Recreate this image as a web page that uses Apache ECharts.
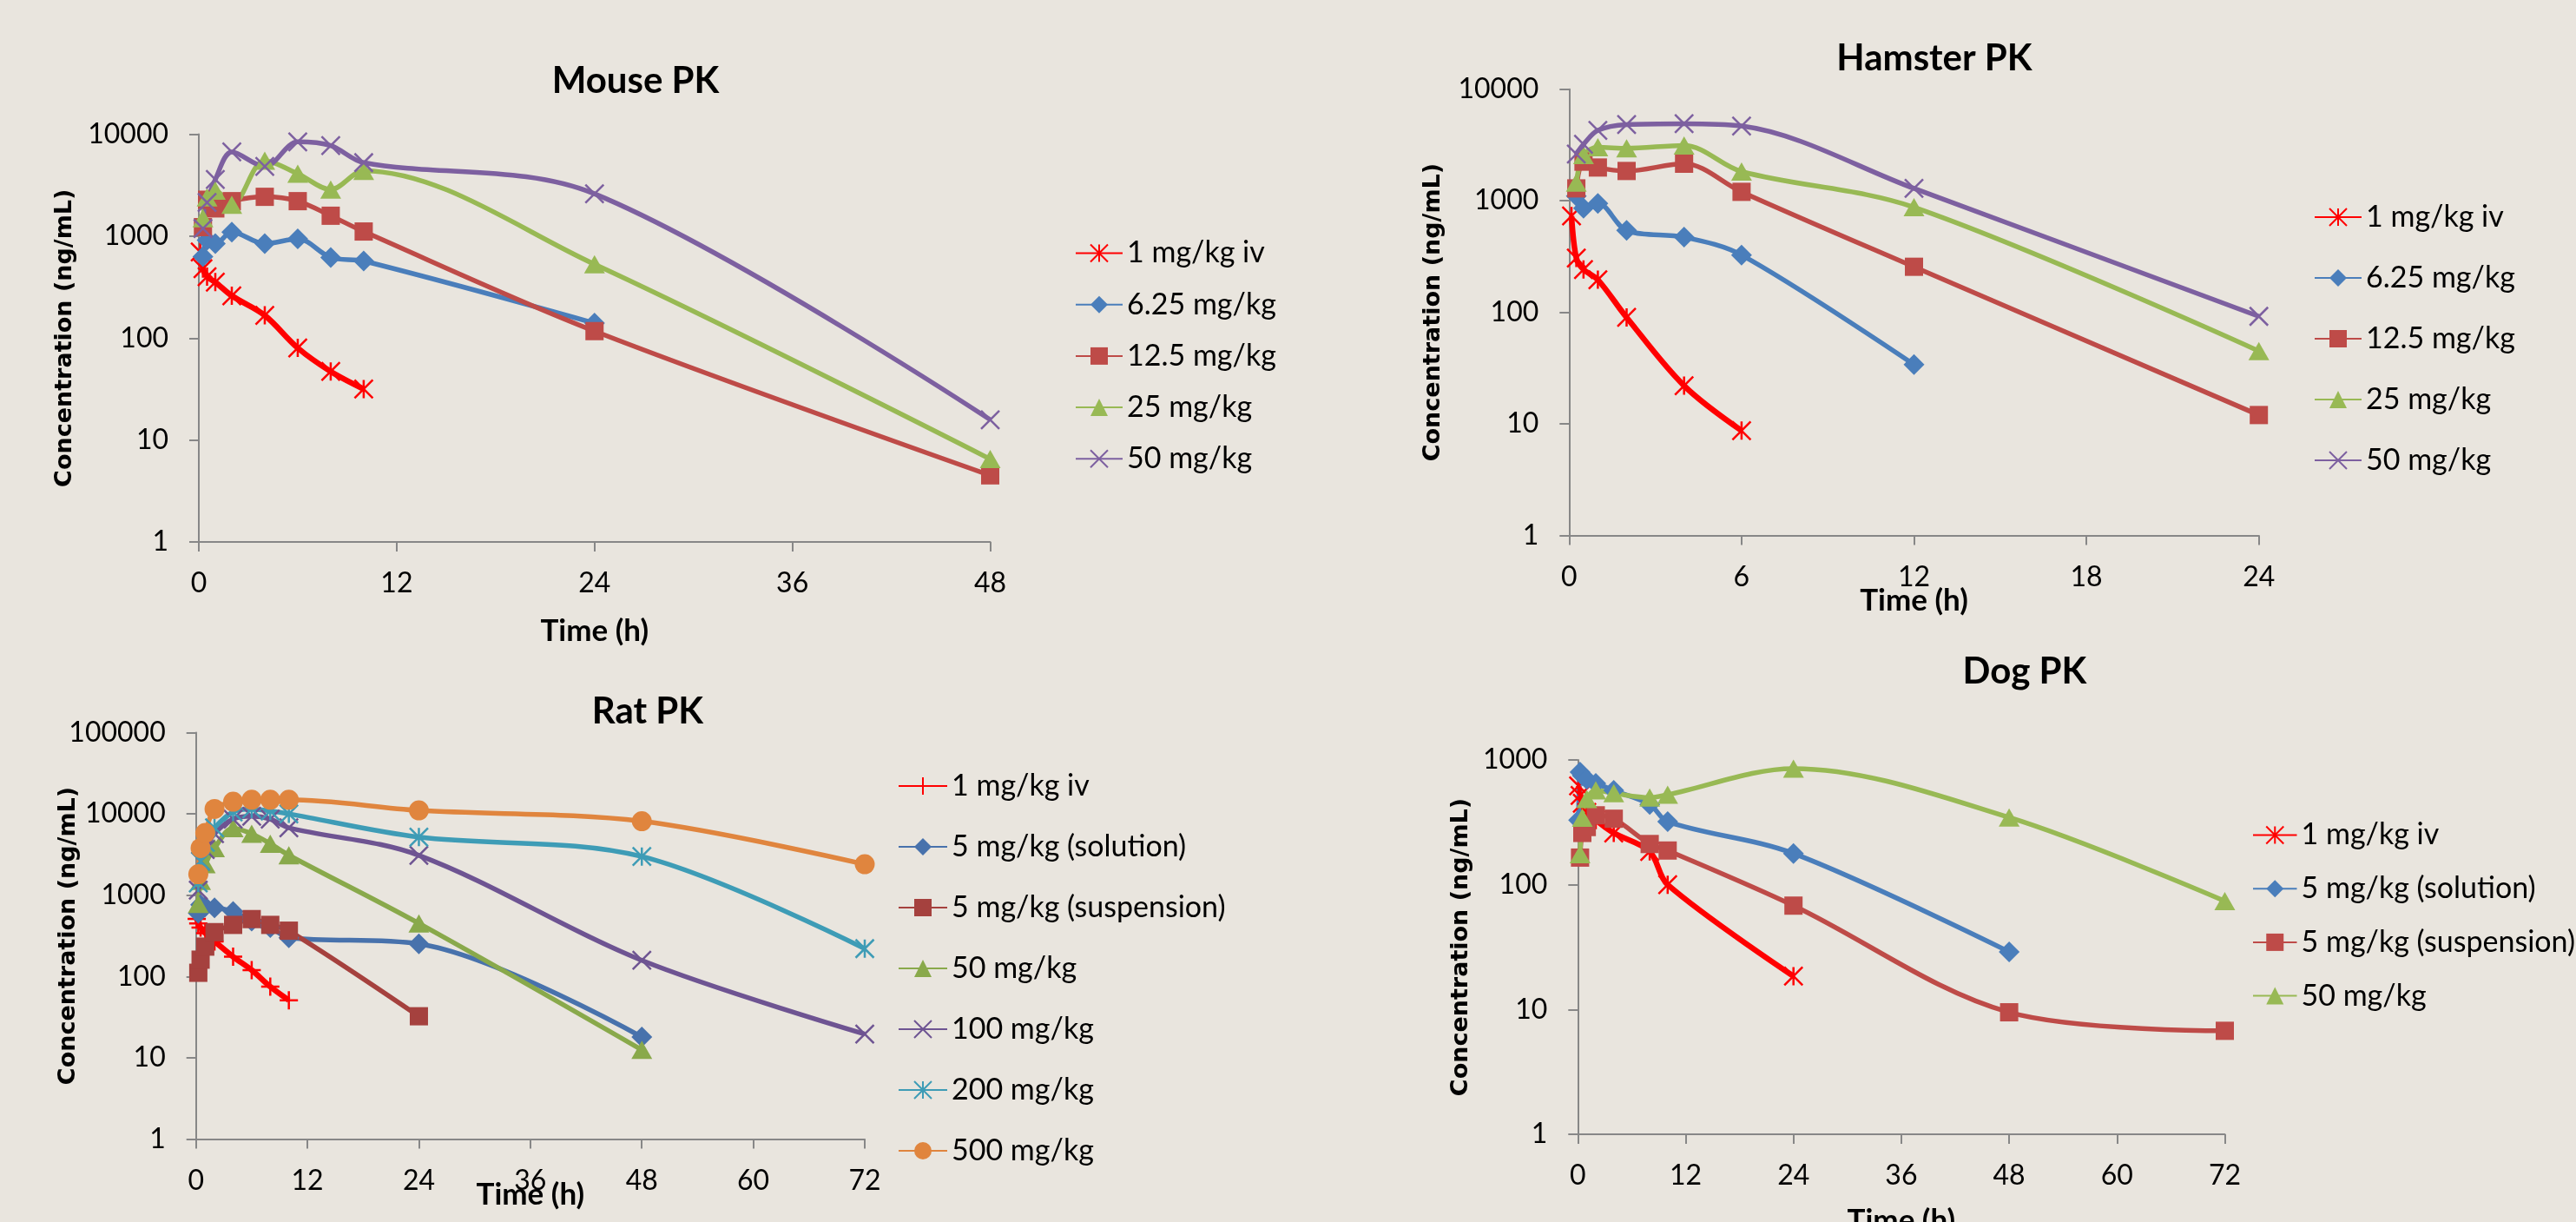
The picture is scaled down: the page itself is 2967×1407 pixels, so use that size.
<!DOCTYPE html>
<html><head><meta charset="utf-8">
<script src="https://cdn.jsdelivr.net/npm/echarts@6/dist/echarts.min.js"></script>
<style>
html,body{margin:0;padding:0;background:#E9E5DE;width:2967px;height:1407px;overflow:hidden}
.pane{position:absolute;left:0;top:0;width:2967px;height:1407px}
</style></head><body>
<div id="mouse" class="pane"></div>
<div id="hamster" class="pane"></div>
<div id="rat" class="pane"></div>
<div id="dog" class="pane"></div>
<script>
// ---------------- DATA ----------------
// Mouse PK
const mouseTimesIV = [0.083, 0.25, 0.5, 1, 2, 4, 6, 8, 10];
const mouseIV = [700, 480, 400, 354, 260, 167, 80, 47, 31.6];
const mouseTimes = [0.25, 0.5, 1, 2, 4, 6, 8, 10, 24, 48];
const mouse625 = [629, 912, 843, 1096, 843, 942, 617, 570, 140, null];
const mouse125 = [1225, 2275, 1871, 2203, 2430, 2203, 1585, 1110, 117, 4.5];
const mouse25 = [1500, 2400, 2800, 2030, 5500, 4100, 2865, 4375, 530, 6.5];
const mouse50 = [1186, 2135, 3595, 6700, 4820, 8420, 7730, 5260, 2600, 15.8];
const mouseXTicks = [0, 12, 24, 36, 48];
const mouseYTicks = [1, 10, 100, 1000, 10000];

// Hamster PK
const hamsterTimesIV = [0.083, 0.25, 0.5, 1, 2, 4, 6];
const hamsterIV = [731, 307, 242, 196, 90, 22, 8.7];
const hamsterTimes = [0.25, 0.5, 1, 2, 4, 6, 12, 24];
const hamster625 = [1100, 859, 946, 542, 472, 326, 34, null];
const hamster125 = [1291, 2240, 1986, 1849, 2148, 1202, 256, 12];
const hamster25 = [1456, 2570, 3020, 2950, 3135, 1828, 875, 45];
const hamster50 = [2618, 3206, 4280, 4822, 4910, 4680, 1290, 92];
const hamsterXTicks = [0, 6, 12, 18, 24];
const hamsterYTicks = [1, 10, 100, 1000, 10000];

// Rat PK
const ratTimesIV = [0.083, 0.25, 0.5, 1, 2, 4, 6, 8, 10];
const ratIV = [510, 450, 400, 340, 270, 175, 120, 75, 51];
const ratTimes = [0.25, 0.5, 1, 2, 4, 6, 8, 10, 24, 48, 72];
const rat5Sol = [600, 760, 720, 700, 630, 480, 400, 300, 252, 18, null];
const rat5Susp = [111, 161, 233, 351, 431, 508, 431, 366, 32.4, null, null];
const rat50 = [780, 1500, 2400, 3800, 6700, 5700, 4300, 3100, 450, 12.5, null];
const rat100 = [1153, 2620, 3640, 5710, 8630, 9360, 8630, 6740, 3090, 158, 19.6];
const rat200 = [1417, 2620, 4467, 6740, 10590, 11480, 10840, 10000, 5180, 2990, 220];
const rat500 = [1811, 3795, 5820, 11480, 14120, 14940, 14940, 14940, 11030, 8130, 2400];
const ratXTicks = [0, 12, 24, 36, 48, 60, 72];
const ratYTicks = [1, 10, 100, 1000, 10000, 100000];

// Dog PK
const dogTimesIV = [0.083, 0.25, 0.5, 1, 2, 4, 8, 10, 24];
const dogIV = [620, 520, 450, 380, 330, 260, 185, 100, 18.5];
const dogTimes = [0.083, 0.25, 0.5, 1, 2, 4, 8, 10, 24, 48, 72];
const dog5Sol = [330, 800, 750, 700, 650, 570, 440, 320, 178, 29, null];
const dog5Susp = [null, 165, 260, 290, 360, 338, 212, 188, 68, 9.5, 6.75];
const dog50 = [null, 176, 344, 487, 570, 541, 499, 527, 853, 346, 74];
const dogXTicks = [0, 12, 24, 36, 48, 60, 72];
const dogYTicks = [1, 10, 100, 1000];

// ---------------- STYLE ----------------
const FONT = 'Lato';
const AXIS_GRAY = '#878787';
const SYM = {
  star: 'path://M0,0L10,10M10,0L0,10M5,0L5,10',
  x: 'path://M0,0L10,10M10,0L0,10',
  plus: 'path://M5,0L5,10M0,5L10,5'
};
const MARK = {
  star: {symbol: SYM.star, size: 21, stroke: true},
  x: {symbol: SYM.x, size: 21, stroke: true},
  plus: {symbol: SYM.plus, size: 21, stroke: true},
  diamond: {symbol: 'diamond', size: 24},
  square: {symbol: 'rect', size: 21},
  triangle: {symbol: 'triangle', size: [24, 21]},
  circle: {symbol: 'circle', size: 23}
};
const C = {
  red: '#FF0000', blue: '#4A7EBB', brick: '#BE4B48', green: '#98B954', purple: '#7D60A0',
  rBlue: '#4872AC', rBrick: '#A5413E', rGreen: '#89A94B', rPurple: '#6E5492', rCyan: '#3E9CB6', rOrange: '#E0853E'
};

function zip(t, v) {
  const out = [];
  for (let i = 0; i < t.length; i++) if (v[i] != null) out.push([t[i], v[i]]);
  return out;
}
function S(name, t, v, color, mark, width) {
  const m = MARK[mark];
  return {
    name: name, type: 'line', data: zip(t, v), smooth: 0.33,
    symbol: m.symbol, symbolSize: m.size, showSymbol: true,
    lineStyle: {color: color, width: width || 5.5},
    itemStyle: m.stroke ? {color: color, borderColor: color, borderWidth: 2.5} : {color: color, borderWidth: 0},
    emphasis: {disabled: true}
  };
}

const panels = [
  {id: 'mouse', title: 'Mouse PK', tx: 732, ty: 93,
   grid: [229, 154.5, 911.5, 469.5], xt: mouseXTicks, yt: mouseYTicks, xGap: 85, yGap: 141,
   leg: [1238, 274.5, 25.2, 54],
   series: [
     S('1 mg/kg iv', mouseTimesIV, mouseIV, C.red, 'star', 6.5),
     S('6.25 mg/kg', mouseTimes, mouse625, C.blue, 'diamond'),
     S('12.5 mg/kg', mouseTimes, mouse125, C.brick, 'square'),
     S('25 mg/kg', mouseTimes, mouse25, C.green, 'triangle'),
     S('50 mg/kg', mouseTimes, mouse50, C.purple, 'x')
   ]},
  {id: 'hamster', title: 'Hamster PK', tx: 2228, ty: 67,
   grid: [1807.3, 102.7, 794.4, 513.8], xt: hamsterXTicks, yt: hamsterYTicks, xGap: 58, yGap: 143,
   leg: [2665, 233, 36, 54],
   series: [
     S('1 mg/kg iv', hamsterTimesIV, hamsterIV, C.red, 'star', 6.5),
     S('6.25 mg/kg', hamsterTimes, hamster625, C.blue, 'diamond'),
     S('12.5 mg/kg', hamsterTimes, hamster125, C.brick, 'square'),
     S('25 mg/kg', hamsterTimes, hamster25, C.green, 'triangle'),
     S('50 mg/kg', hamsterTimes, hamster50, C.purple, 'x')
   ]},
  {id: 'rat', title: 'Rat PK', tx: 746, ty: 819.5,
   grid: [225.7, 843.5, 770.3, 468], xt: ratXTicks, yt: ratYTicks, xGap: 47, yGap: 133,
   leg: [1034, 888, 36, 56],
   series: [
     S('1 mg/kg iv', ratTimesIV, ratIV, C.red, 'plus', 6.5),
     S('5 mg/kg (solution)', ratTimes, rat5Sol, C.rBlue, 'diamond'),
     S('5 mg/kg (suspension)', ratTimes, rat5Susp, C.rBrick, 'square'),
     S('50 mg/kg', ratTimes, rat50, C.rGreen, 'triangle'),
     S('100 mg/kg', ratTimes, rat100, C.rPurple, 'x'),
     S('200 mg/kg', ratTimes, rat200, C.rCyan, 'star'),
     S('500 mg/kg', ratTimes, rat500, C.rOrange, 'circle')
   ]},
  {id: 'dog', title: 'Dog PK', tx: 2332, ty: 773,
   grid: [1817.3, 875, 745.2, 431], xt: dogXTicks, yt: dogYTicks, xGap: 82, yGap: 121,
   leg: [2594, 944.5, 27.7, 50.5],
   series: [
     S('1 mg/kg iv', dogTimesIV, dogIV, C.red, 'star', 6.5),
     S('5 mg/kg (solution)', dogTimes, dog5Sol, C.blue, 'diamond'),
     S('5 mg/kg (suspension)', dogTimes, dog5Susp, C.brick, 'square'),
     S('50 mg/kg', dogTimes, dog50, C.green, 'triangle')
   ]}
];

function buildOption(p) {
  const axisLine = {show: true, onZero: false, lineStyle: {color: AXIS_GRAY, width: 2}};
  const axisTick = {show: true, inside: false, length: 11, lineStyle: {color: AXIS_GRAY, width: 2}};
  return {
    backgroundColor: 'transparent',
    animation: false,
    graphic: [{
      type: 'text', x: p.tx, y: p.ty, silent: true,
      style: {text: p.title, font: 'bold 42px Lato', fill: '#000', align: 'center', verticalAlign: 'middle'}
    }],
    grid: {left: p.grid[0], top: p.grid[1], width: p.grid[2], height: p.grid[3], containLabel: false, outerBoundsMode: 'none'},
    legend: {
      orient: 'vertical', left: p.leg[0], top: p.leg[1], itemGap: p.leg[2], itemWidth: p.leg[3], itemHeight: 25,
      padding: 0, selectedMode: false,
      textStyle: {fontFamily: FONT, fontSize: 34, color: '#000', lineHeight: 25},
      data: p.series.map(s => s.name)
    },
    xAxis: {
      type: 'value', min: p.xt[0], max: p.xt[p.xt.length - 1], interval: p.xt[1] - p.xt[0],
      axisLine: axisLine, axisTick: axisTick, splitLine: {show: false},
      axisLabel: {margin: 32, fontFamily: FONT, fontSize: 32, color: '#000', showMinLabel: true, showMaxLabel: true, hideOverlap: false},
      name: 'Time (h)', nameLocation: 'middle', nameGap: p.xGap, nameMoveOverlap: false,
      nameTextStyle: {fontFamily: FONT, fontWeight: 'bold', fontSize: 35, color: '#000'}
    },
    yAxis: {
      type: 'log', logBase: 10, min: p.yt[0], max: p.yt[p.yt.length - 1],
      axisLine: axisLine, axisTick: axisTick, splitLine: {show: false}, minorTick: {show: false},
      axisLabel: {margin: 35, fontFamily: FONT, fontSize: 32, color: '#000', showMinLabel: true, showMaxLabel: true, hideOverlap: false,
        formatter: v => String(Math.round(v))},
      name: 'Concentration (ng/mL)', nameLocation: 'middle', nameGap: p.yGap, nameMoveOverlap: false,
      nameTextStyle: {fontFamily: 'DejaVu Sans', fontWeight: 'bold', fontSize: 27, color: '#000'}
    },
    series: p.series
  };
}

panels.forEach(p => {
  const chart = echarts.init(document.getElementById(p.id), null, {renderer: 'canvas', width: 2967, height: 1407});
  chart.setOption(buildOption(p));
});
</script>
</body></html>
